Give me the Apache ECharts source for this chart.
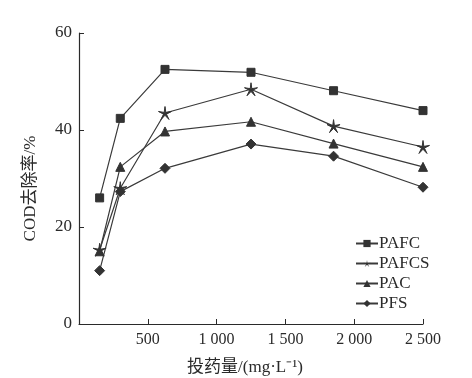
<!DOCTYPE html>
<html><head><meta charset="utf-8">
<script src="https://cdn.jsdelivr.net/npm/echarts@6/dist/echarts.min.js"></script>
<style>html,body{margin:0;padding:0;background:#fff}#c{width:472px;height:378px}</style>
</head><body><div id="c"></div>
<script>
const doses = [150, 300, 625, 1250, 1850, 2500];
const seriesNames = ['PAFC', 'PAFCS', 'PAC', 'PFS'];
const pafc  = [26.0, 42.4, 52.5, 51.9, 48.1, 44.0];
const pafcs = [15.3, 28.0, 43.5, 48.4, 40.8, 36.5];
const pac   = [15.0, 32.4, 39.7, 41.7, 37.2, 32.4];
const pfs   = [11.0, 27.3, 32.1, 37.1, 34.6, 28.2];
const xTickLabels = ['', '500', '1 000', '1 500', '2 000', '2 500'];
const yTickLabels = ['0', '20', '40', '60'];

const starPath = 'path://M10,0 L11.2,8.2 L19.51,6.91 L12.1,10.6 L15.88,18.09 L10,12.2 L4.12,18.09 L7.9,10.6 L0.49,6.91 L8.8,8.2 Z';
const symbols = ['rect', starPath, 'triangle', 'diamond'];
const sizes = [8, 13, 9, 10];
const values = [pafc, pafcs, pac, pfs];
const font = "'Liberation Serif', 'Noto Sans CJK SC', serif";
const ink = '#2a2a2a';

const chart = echarts.init(document.getElementById('c'), null, {renderer: 'canvas'});
chart.setOption({
  animation: false,
  backgroundColor: '#fff',
  grid: {left: 79, right: 49, top: 33, bottom: 54, containLabel: false, outerBoundsMode: 'none'},
  legend: {
    orient: 'vertical', left: 350, top: 230,
    itemWidth: 22, itemHeight: 9, itemGap: 3,
    textStyle: {fontFamily: font, fontSize: 17, color: ink, padding: [0,0,0,-4]},
    data: seriesNames
  },
  xAxis: {
    type: 'value', min: 0, max: 2500, interval: 500,
    name: '投药量/(mg·L⁻¹)', nameLocation: 'middle', nameGap: 35,
    nameTextStyle: {fontFamily: font, fontSize: 17, color: ink, padding: [0, 12, 0, 0]},
    axisLine: {show: true, lineStyle: {color: ink, width: 1.2}},
    axisTick: {show: true, inside: true, length: 5, lineStyle: {color: ink}},
    axisLabel: {fontFamily: font, fontSize: 16, color: ink, margin: 8,
      formatter: v => xTickLabels[Math.round(v / 500)]},
    splitLine: {show: false}
  },
  yAxis: {
    type: 'value', min: 0, max: 60, interval: 20,
    name: 'COD去除率/%', nameLocation: 'middle', nameGap: 40, nameRotate: 90,
    nameTextStyle: {fontFamily: font, fontSize: 17, color: ink, padding: [0, 20, 0, 0]},
    axisLine: {show: true, lineStyle: {color: ink, width: 1.2}},
    axisTick: {show: true, inside: true, length: 5, lineStyle: {color: ink}},
    axisLabel: {fontFamily: font, fontSize: 17, color: ink, margin: 7,
      formatter: v => yTickLabels[Math.round(v / 20)]},
    splitLine: {show: false}
  },
  series: seriesNames.map((n, i) => ({
    name: n, type: 'line',
    data: doses.map((d, j) => [d, values[i][j]]),
    symbol: symbols[i], symbolSize: sizes[i], showAllSymbol: true,
    lineStyle: {color: '#3a3a3a', width: 1.2},
    itemStyle: {color: '#333', borderColor: '#333'}
  }))
});
</script></body></html>
